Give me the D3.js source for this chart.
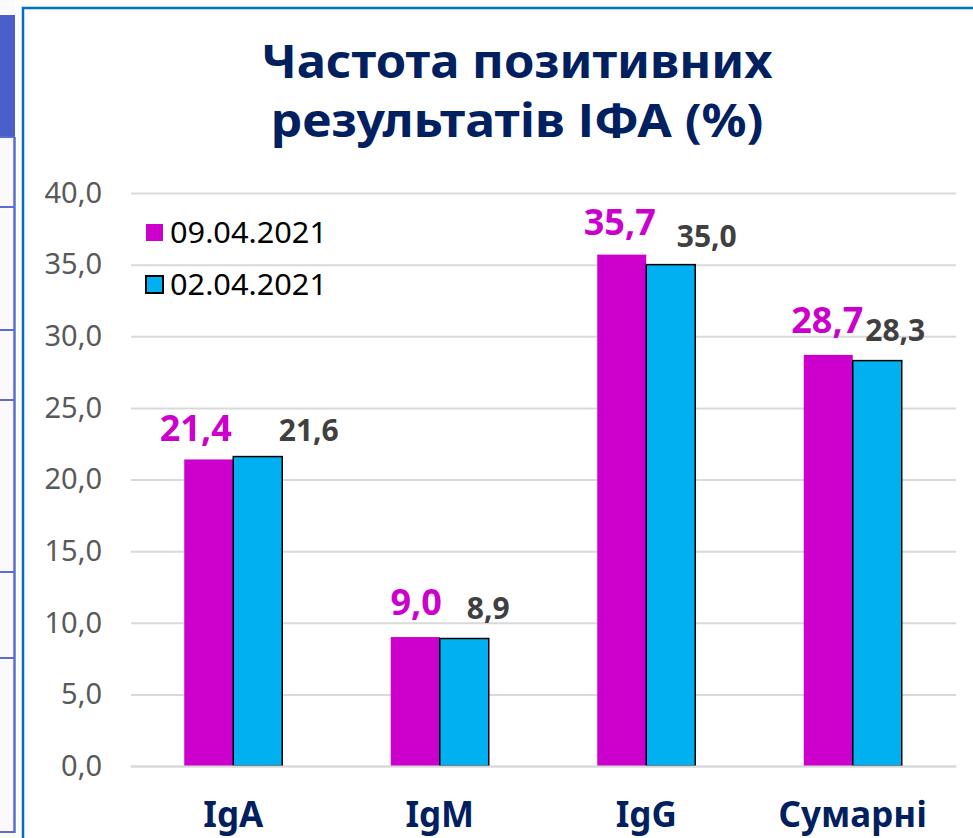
<!DOCTYPE html>
<html>
<head>
<meta charset="utf-8">
<script src="https://cdn.jsdelivr.net/npm/d3@7"></script>
<style>
  html, body { margin: 0; padding: 0; background: #fff; }
  svg { display: block; }
</style>
</head>
<body>
<div id="chart-area"></div>
<script>
// data
let categories = ["IgA", "IgM", "IgG", "Сумарні"];
let seriesNames = ["09.04.2021", "02.04.2021"];
let valuesApr09 = [21.4, 9.0, 35.7, 28.7];
let valuesApr02 = [21.6, 8.9, 35.0, 28.3];
let yTicks = [0, 5, 10, 15, 20, 25, 30, 35, 40];

let colors = ["#cc00cc", "#00b0f0"];
let labelColors = ["#cc00cc", "#404040"];
let navy = "#002060";
let font = "'Noto Sans', 'DejaVu Sans', sans-serif";

// label nudges (the labels were moved by hand in the original)
let labelDx = [[-13, 1, -2, -1], [51, 24, 36, 18]];
let labelDy = [[18, 22, 20, 22], [16, 20, 18, 20]];

let svgCanvas = d3.select("#chart-area")
                    .append("svg")
                    .attr("width", 973)
                    .attr("height", 838);

// left decoration (part of the slide behind the chart)
svgCanvas.append("rect")
    .attr("x", 0).attr("y", 0).attr("width", 15).attr("height", 838)
    .attr("fill", "#fafafc");
svgCanvas.append("rect")
    .attr("x", 0).attr("y", 15).attr("width", 15).attr("height", 122)
    .attr("fill", "#4a5fc9");
svgCanvas.append("line")
    .attr("x1", 14.5).attr("y1", 137).attr("x2", 14.5).attr("y2", 833)
    .attr("stroke", "#5a6dd0").attr("stroke-width", 2.5);
[137, 207, 330, 400, 572, 658, 832].forEach(y => {
    svgCanvas.append("line")
        .attr("x1", 0).attr("y1", y).attr("x2", 15).attr("y2", y)
        .attr("stroke", "#5a6dd0").attr("stroke-width", 2);
});

// chart frame
svgCanvas.append("path")
    .attr("d", "M23,840 L23,8 L975,8")
    .attr("fill", "none")
    .attr("stroke", "#0070c0")
    .attr("stroke-width", 2.5);

// title
let title = svgCanvas.append("text")
    .attr("text-anchor", "middle")
    .attr("font-family", font)
    .attr("font-weight", "bold")
    .attr("font-size", 46)
    .attr("fill", navy);
title.append("tspan").attr("x", 517).attr("y", 78)
    .attr("textLength", 511).attr("lengthAdjust", "spacingAndGlyphs")
    .text("Частота позитивних");
title.append("tspan").attr("x", 517).attr("y", 137)
    .attr("textLength", 493).attr("lengthAdjust", "spacingAndGlyphs")
    .text("результатів ІФА (%)");

// scales
let y = d3.scaleLinear().domain([0, 40]).range([766, 193]);
let x0 = d3.scaleBand().domain(categories).range([130, 956])
    .paddingInner(0.5254).paddingOuter(0.2627);
let x1 = d3.scaleBand().domain(seriesNames).range([0, x0.bandwidth()]);

// gridlines
svgCanvas.append("g")
    .attr("transform", "translate(131,0)")
    .call(d3.axisLeft(y).tickValues(yTicks).tickSize(-(956 - 131)).tickFormat(""))
    .call(g => g.select(".domain").remove())
    .call(g => g.selectAll("line").attr("stroke", "#d9d9d9").attr("stroke-width", 2));

// y tick labels
svgCanvas.append("g")
    .attr("transform", "translate(102,0)")
    .call(d3.axisLeft(y).tickValues(yTicks).tickSize(0).tickPadding(0)
        .tickFormat(d => d3.format(".1f")(d).replace(".", ",")))
    .call(g => g.select(".domain").remove())
    .call(g => g.selectAll("text")
        .attr("font-family", font)
        .attr("font-size", 29)
        .attr("fill", "#595959"));

// bars
let seriesValues = [valuesApr09, valuesApr02];
seriesValues.forEach((vals, s) => {
    svgCanvas.selectAll(".bar" + s)
        .data(vals)
        .enter().append("rect")
        .attr("class", "bar" + s)
        .attr("x", (d, i) => x0(categories[i]) + x1(seriesNames[s]))
        .attr("y", d => y(d))
        .attr("width", x1.bandwidth())
        .attr("height", d => y(0) - y(d))
        .attr("fill", colors[s])
        .attr("stroke", s === 1 ? "#000" : "none")
        .attr("stroke-width", 1.5);
});

// value labels
seriesValues.forEach((vals, s) => {
    svgCanvas.selectAll(".lab" + s)
        .data(vals)
        .enter().append("text")
        .attr("class", "lab" + s)
        .attr("x", (d, i) => x0(categories[i]) + x1(seriesNames[s]) + x1.bandwidth() / 2 + labelDx[s][i])
        .attr("y", (d, i) => y(d) - labelDy[s][i])
        .attr("text-anchor", "middle")
        .attr("font-family", font)
        .attr("font-weight", "bold")
        .attr("font-size", s === 0 ? 36 : 30)
        .attr("fill", labelColors[s])
        .text(d => d3.format(".1f")(d).replace(".", ","));
});

// category labels
svgCanvas.append("g")
    .attr("transform", "translate(0,766)")
    .call(d3.axisBottom(x0).tickSize(0).tickPadding(0))
    .call(g => g.select(".domain").attr("stroke", "#d9d9d9").attr("stroke-width", 2))
    .call(g => g.selectAll("text")
        .attr("dy", 0)
        .attr("y", 61)
        .attr("font-family", font)
        .attr("font-weight", "bold")
        .attr("font-size", 35)
        .attr("fill", navy));

// legend
let legend = svgCanvas.selectAll(".legend")
    .data(seriesNames)
    .enter().append("g")
    .attr("class", "legend")
    .attr("transform", (d, i) => "translate(146," + (224 + i * 52) + ")");
legend.append("rect")
    .attr("width", 17).attr("height", 17)
    .attr("fill", (d, i) => colors[i])
    .attr("stroke", (d, i) => i === 1 ? "#000" : "none")
    .attr("stroke-width", 2);
legend.append("text")
    .attr("x", 24).attr("y", 19)
    .attr("font-family", font)
    .attr("font-size", 29)
    .attr("fill", "#000")
    .attr("textLength", 157).attr("lengthAdjust", "spacingAndGlyphs")
    .text(d => d);
</script>
</body>
</html>
